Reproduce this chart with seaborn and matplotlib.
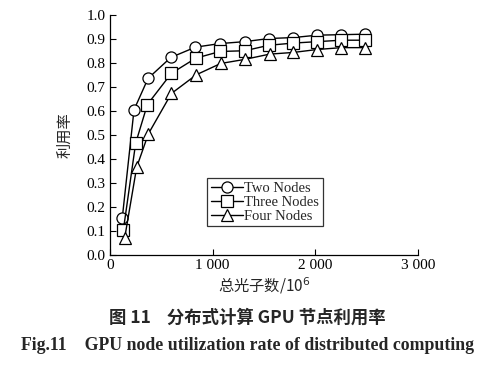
import matplotlib
matplotlib.use("Agg")
import matplotlib.pyplot as plt
import seaborn as sns
import pandas as pd

# Data
x_two = [120, 234, 371, 592, 832, 1072, 1313, 1549, 1786, 2020, 2253, 2480]
y_two = [0.156, 0.605, 0.736, 0.823, 0.866, 0.881, 0.889, 0.902, 0.906, 0.916, 0.918, 0.920]
x_three = [130, 250, 364, 598, 835, 1072, 1312, 1549, 1786, 2020, 2253, 2480]
y_three = [0.104, 0.466, 0.627, 0.757, 0.820, 0.848, 0.851, 0.874, 0.883, 0.889, 0.895, 0.895]
x_four = [143, 260, 374, 598, 841, 1078, 1312, 1555, 1786, 2013, 2253, 2480]
y_four = [0.071, 0.366, 0.505, 0.673, 0.751, 0.798, 0.815, 0.837, 0.844, 0.856, 0.864, 0.864]
series_names = ["Two Nodes", "Three Nodes", "Four Nodes"]
x_ticks = [0, 1000, 2000, 3000]
x_tick_labels = ["0", "1 000", "2 000", "3 000"]
y_ticks = [0.0, 0.1, 0.2, 0.3, 0.4, 0.5, 0.6, 0.7, 0.8, 0.9, 1.0]

df = pd.concat([
    pd.DataFrame({"x": x_two, "y": y_two, "s": series_names[0]}),
    pd.DataFrame({"x": x_three, "y": y_three, "s": series_names[1]}),
    pd.DataFrame({"x": x_four, "y": y_four, "s": series_names[2]}),
])

sns.set_style("ticks")
plt.rcParams['font.family'] = ['Liberation Serif', 'Noto Sans CJK SC']
plt.rcParams['xtick.direction'] = 'in'
plt.rcParams['ytick.direction'] = 'in'

fig = plt.figure(figsize=(4.95, 3.69), dpi=100)
ax = fig.add_axes([110/495, 1-255/369, (418-110)/495, (255-15)/369])

markers = {"Two Nodes": "o", "Three Nodes": "s", "Four Nodes": "^"}
sns.lineplot(data=df, x="x", y="y", hue="s", style="s", markers=markers,
             dashes=False, palette=["black"]*3, markersize=8,
             markerfacecolor="white", markeredgecolor="black", markeredgewidth=0.9,
             linewidth=1.0, ax=ax, sort=False)

ax.set_xlim(0, 3000)
ax.set_ylim(0, 1.0)
ax.set_xticks(x_ticks)
ax.set_xticklabels(x_tick_labels)
ax.set_yticks(y_ticks)
ax.set_yticklabels([f"{v:.1f}" for v in y_ticks])
ax.tick_params(labelsize=11, length=4, width=0.8, colors="black", pad=3)
for side in ["top", "right"]:
    ax.spines[side].set_visible(False)
for side in ["left", "bottom"]:
    ax.spines[side].set_linewidth(0.9)
    ax.spines[side].set_color("black")

ax.set_xlabel("总光子数/10$^{6}$", fontsize=11, labelpad=2,
              family=['Noto Sans CJK SC', 'Liberation Serif'])
ax.set_ylabel("利用率", fontsize=11, labelpad=10, family=['Noto Sans CJK SC'])

leg = ax.legend(title=None, loc="upper left", bbox_to_anchor=((207-110)/308, (255-178)/240),
                frameon=True, fancybox=False, edgecolor="black", fontsize=10.5,
                handlelength=2.2, handletextpad=0.1, borderpad=0.25, labelspacing=0.05,
                borderaxespad=0)
leg.get_frame().set_linewidth(0.9)

fig.text(0.5, 1-318/369, "图 11    分布式计算 GPU 节点利用率", ha="center", va="center",
         fontsize=12.5, fontweight="bold", family=['Noto Sans CJK SC', 'Liberation Serif'])
fig.text(0.5, 1-346/369, "Fig.11    GPU node utilization rate of distributed computing",
         ha="center", va="center", fontsize=12.8, fontweight="bold", family=['Liberation Serif'])

fig.savefig("out.png", dpi=100)
